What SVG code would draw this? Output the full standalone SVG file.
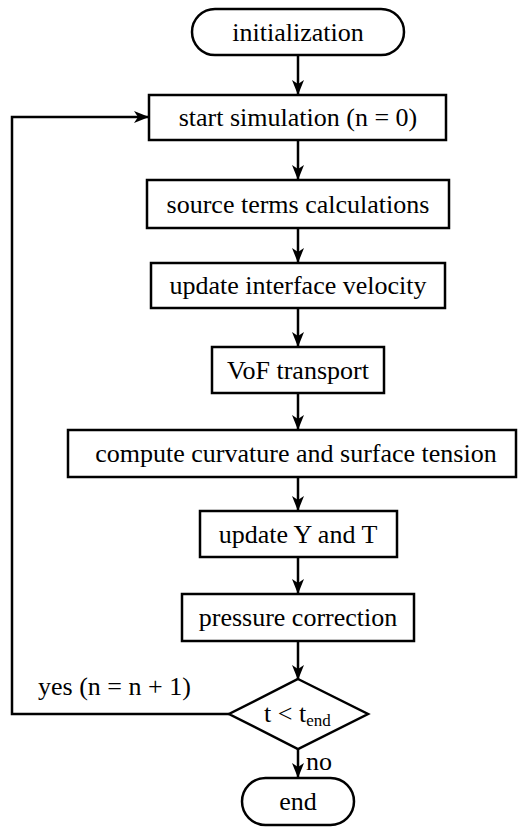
<svg xmlns="http://www.w3.org/2000/svg" width="523" height="835" viewBox="0 0 523 835">
<style>
.box{fill:#fff;stroke:#000;stroke-width:2.5}
.t{font-family:"Liberation Serif","Times New Roman",serif;font-size:26px;fill:#000;text-anchor:middle}
.tl{font-family:"Liberation Serif","Times New Roman",serif;font-size:26px;fill:#000}
.c{fill:none;stroke:#000;stroke-width:2.5}
</style>
<defs>
<marker id="ah" markerUnits="userSpaceOnUse" markerWidth="16" markerHeight="14" refX="14" refY="7" orient="auto">
<path d="M0,1 L15,7 L0,13 L4,7 Z" fill="#000"/>
</marker>
</defs>
<g id="connectors">
<line class="c" x1="298" y1="56" x2="298" y2="94" marker-end="url(#ah)"/>
<line class="c" x1="298" y1="140" x2="298" y2="179" marker-end="url(#ah)"/>
<line class="c" x1="298" y1="228" x2="298" y2="262" marker-end="url(#ah)"/>
<line class="c" x1="298" y1="308" x2="298" y2="346" marker-end="url(#ah)"/>
<line class="c" x1="298" y1="393" x2="298" y2="429" marker-end="url(#ah)"/>
<line class="c" x1="298" y1="477" x2="298" y2="510" marker-end="url(#ah)"/>
<line class="c" x1="298" y1="557" x2="298" y2="593" marker-end="url(#ah)"/>
<line class="c" x1="298" y1="641" x2="298" y2="679" marker-end="url(#ah)"/>
<line class="c" x1="298" y1="749" x2="298" y2="777" marker-end="url(#ah)"/>
<polyline class="c" points="229,714 12,714 12,117 148,117" marker-end="url(#ah)"/>
</g>
<g id="init"><rect class="box" x="192" y="9" width="212" height="46" rx="23"/><text class="t" x="298" y="41">initialization</text></g>
<g id="start"><rect class="box" x="149" y="95" width="297" height="45"/><text class="t" x="298" y="126">start simulation (n = 0)</text></g>
<g id="source"><rect class="box" x="147" y="180" width="302" height="48"/><text class="t" x="298" y="213">source terms calculations</text></g>
<g id="velocity"><rect class="box" x="151" y="263" width="294" height="45"/><text class="t" x="298" y="294">update interface velocity</text></g>
<g id="vof"><rect class="box" x="212" y="347" width="172" height="46"/><text class="t" x="298" y="379">VoF transport</text></g>
<g id="curvature"><rect class="box" x="68" y="430" width="448" height="47"/><text class="t" x="296" y="462">compute curvature and surface tension</text></g>
<g id="updateYT"><rect class="box" x="200" y="511" width="197" height="46"/><text class="t" x="298" y="543">update Y and T</text></g>
<g id="pressure"><rect class="box" x="182" y="594" width="232" height="47"/><text class="t" x="298" y="626">pressure correction</text></g>
<g id="decision"><polygon class="box" points="298,679 368,714 298,749 229,714"/><text class="tl" x="264" y="722">t &lt; t<tspan font-size="17" dy="4">end</tspan></text></g>
<g id="end"><rect class="box" x="242" y="778" width="112" height="47" rx="23.5"/><text class="t" x="298" y="810">end</text></g>
<text class="tl" x="38" y="695">yes (n = n + 1)</text>
<text class="tl" x="306" y="770">no</text>
</svg>
